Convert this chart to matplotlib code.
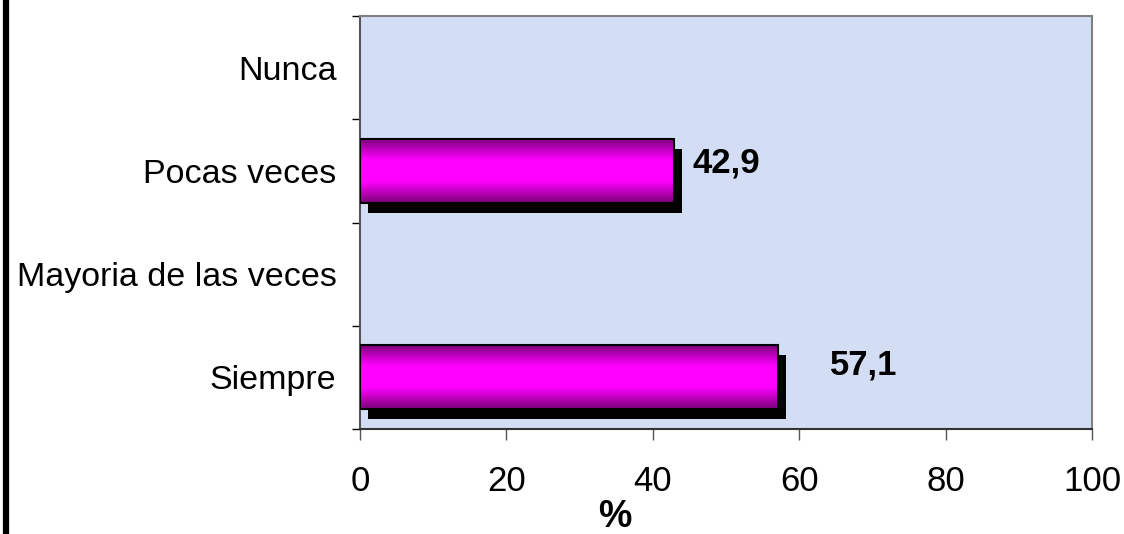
import numpy as np
import matplotlib
matplotlib.use("Agg")
import matplotlib.pyplot as plt
from matplotlib.colors import LinearSegmentedColormap
from matplotlib.lines import Line2D
import matplotlib.patheffects as pe

categories = ["Siempre", "Mayoria de las veces", "Pocas veces", "Nunca"]
values = [57.1, 0.0, 42.9, 0.0]
value_labels = ["57,1", "", "42,9", ""]
xticks = [0, 20, 40, 60, 80, 100]

plt.rcParams["font.family"] = ["Liberation Sans", "DejaVu Sans"]

fig = plt.figure(figsize=(11.24, 5.34), dpi=100)
ax = fig.add_axes([360 / 1124, 1 - 429 / 534, 732 / 1124, 413 / 534])
ax.set_facecolor("#d3def4")

# purple-magenta-purple shading across each bar
grad = LinearSegmentedColormap.from_list("tube", ["#7a0078", "#ff00ff", "#ff00ff", "#7a0078"])
shade = np.linspace(0, 1, 200).reshape(-1, 1)

bar_h = 0.62
y = np.arange(len(categories))
shown = [v > 0 for v in values]
bars = ax.barh(y, values, height=bar_h, color="#ff00ff", edgecolor="black",
               linewidth=0, zorder=3,
               path_effects=[pe.SimplePatchShadow(offset=(6, -7), shadow_rgbFace="black", alpha=1.0),
                             pe.Normal()])

for b, v, s in zip(bars, values, shown):
    if not s:
        b.set_visible(False)
        continue
    x0, y0 = b.get_x(), b.get_y()
    im = ax.imshow(shade, cmap=grad, aspect="auto", zorder=4,
                   extent=(x0, x0 + v, y0, y0 + bar_h), interpolation="bilinear")
    im.set_clip_path(b)
    ax.add_patch(plt.Rectangle((x0, y0), v, bar_h, fill=False, edgecolor="black",
                               linewidth=1.5, zorder=5))

# value labels, nudged like the originals
label_offsets = {0: (52, 12), 2: (18, 8)}
for i, (v, t) in enumerate(zip(values, value_labels)):
    if not t:
        continue
    dx, dy = label_offsets.get(i, (14, 5))
    ax.annotate(t, xy=(v, y[i]), xytext=(dx, dy), textcoords="offset pixels",
                ha="left", va="center", fontsize=25, fontweight="bold", zorder=6)

ax.set_xlim(0, 100)
ax.set_ylim(-0.5, len(categories) - 0.5)
ax.set_xticks(xticks)
ax.set_xticklabels([str(t) for t in xticks])
ax.set_yticks(y)
ax.set_yticklabels(categories)
ax.set_yticks(np.arange(-0.5, len(categories)), minor=True)

ax.tick_params(axis="x", direction="out", length=8, width=1, color="#555555", labelsize=25, pad=18)
ax.tick_params(axis="y", which="major", length=0, labelsize=24.5, pad=17)
ax.tick_params(axis="y", which="minor", direction="out", length=6, width=1, color="black")

for side in ["top", "right"]:
    ax.spines[side].set_color("#808080")
    ax.spines[side].set_linewidth(1.5)
ax.spines["left"].set_color("#555555")
ax.spines["left"].set_linewidth(1.5)
ax.spines["bottom"].set_color("#333333")
ax.spines["bottom"].set_linewidth(1.5)

ax.set_xlabel("%", fontsize=27, fontweight="bold")
ax.xaxis.set_label_coords(0.348, -0.17)

# heavy rule down the left edge
fig.add_artist(Line2D([6 / 1124, 6 / 1124], [0, 1], color="black", linewidth=4.5,
                      transform=fig.transFigure))

fig.savefig("out.png", dpi=100)
